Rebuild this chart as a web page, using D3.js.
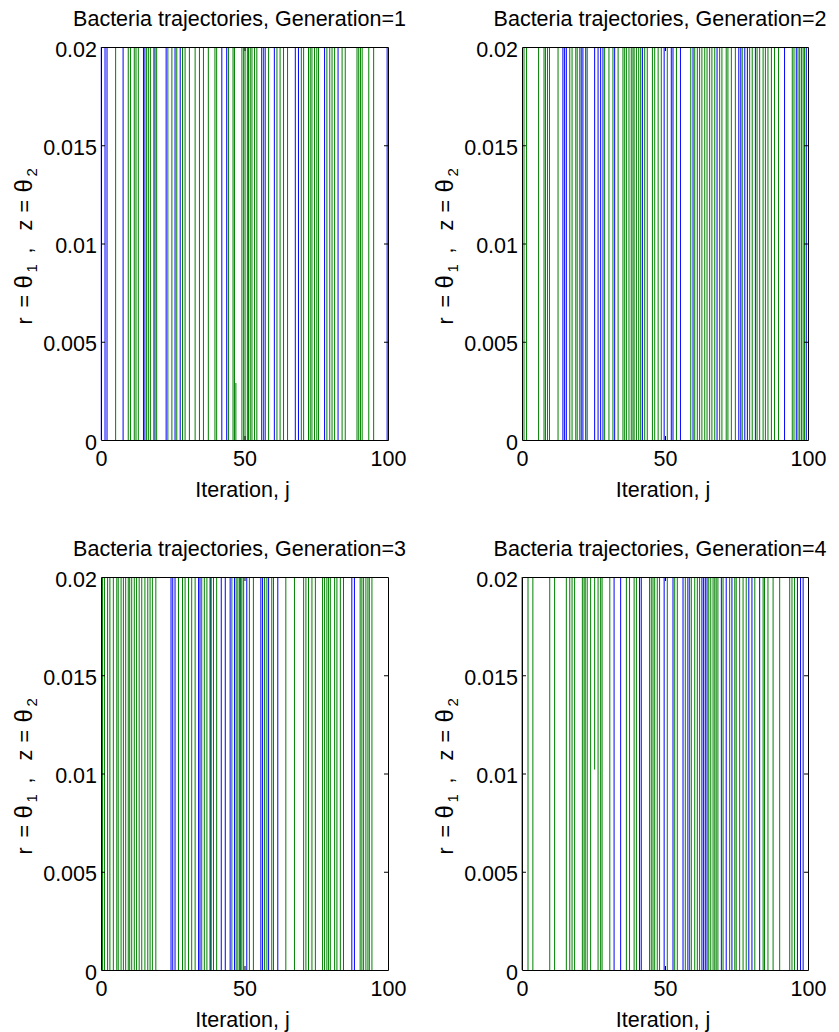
<!DOCTYPE html>
<meta charset="utf-8">
<style>
    body { margin: 0; background: #fff; }
    svg text { font-family: "Liberation Sans", Arial, Helvetica, sans-serif; fill: #000; }
    .axis .domain { stroke: #000; stroke-width: 1px; }
    .axis .tick line { stroke: #000; stroke-width: 1px; }
</style>
<svg width="839" height="1032"></svg>
<script src="https://d3js.org/d3.v7.min.js"></script>
<script>

    // ticks shared by every panel
    var xTicks = [0, 50, 100];
    var yTicks = [0, 0.005, 0.01, 0.015, 0.02];
    var xDomain = [0, 100];
    var yDomain = [0, 0.02];

    var generations = [1, 2, 3, 4];

    // iteration j where each trajectory crosses the visible band (r = blue, z = green)
    var gen1Blue = [0.1, 1.4, 2.1, 7.7, 14.8, 15.3, 18.8, 22.7, 25.8, 27.6, 42.1, 43.8, 56.0, 57.2, 60.4,
        67.7, 68.8, 77.9, 82.6, 99.7];
    var gen1Green = [5.1, 9.5, 10.3, 11.6, 12.2, 13.0, 15.9, 16.5, 17.2, 18.4, 19.4, 23.3, 24.7, 26.4, 28.4,
        29.3, 30.8, 32.8, 34.3, 35.7, 37.4, 39.7, 40.3, 44.4, 46.0, 46.5, 49.1, 49.7, 50.2, 51.0, 51.4, 52.0,
        52.6, 53.5, 54.3, 56.6, 58.4, 61.3, 62.4, 63.6, 65.0, 69.8, 70.6, 72.3, 72.9, 73.5, 74.4, 75.2, 75.8,
        78.7, 79.7, 80.5, 81.4, 84.0, 85.1, 89.2, 89.8, 90.4, 91.0, 93.3, 95.0];
    var gen1GreenPartial = [[47.0, 0, 0.0029]];

    var gen2Blue = [14.3, 14.9, 15.5, 20.7, 21.3, 22.3, 25.4, 26.6, 27.5, 28.3, 32.4, 42.1, 49.7, 52.2, 52.8,
        55.4, 59.8, 68.2, 75.8, 76.5, 77.9, 78.8, 81.6, 91.8, 95.9, 99.4];
    var gen2Green = [0.7, 1.6, 5.8, 7.7, 8.2, 8.9, 9.6, 12.6, 16.7, 17.5, 18.8, 19.3, 20.2, 22.8, 28.9, 30.4,
        31.8, 33.6, 35.3, 35.9, 36.5, 37.4, 38.2, 38.8, 39.2, 40.0, 40.8, 41.5, 42.9, 43.8, 45.6, 46.4, 47.6,
        48.7, 50.8, 54.0, 59.0, 60.4, 61.3, 62.1, 62.9, 63.9, 64.7, 65.6, 66.4, 67.4, 69.1, 69.9, 71.4, 72.0,
        73.2, 74.6, 77.0, 79.6, 80.5, 82.2, 83.1, 84.3, 85.1, 86.0, 87.2, 88.3, 89.7, 94.5, 95.1, 96.5, 97.1,
        97.7, 98.3, 98.8];
    var gen2GreenPartial = [];

    var gen3Blue = [24.4, 25.0, 25.8, 34.0, 34.5, 38.1, 41.9, 43.3, 45.0, 46.5, 48.5, 50.8, 55.7, 56.3, 58.4,
        61.6, 87.4, 88.3];
    var gen3Green = [0.5, 1.2, 2.3, 3.1, 4.3, 5.5, 6.0, 7.0, 7.8, 8.6, 9.5, 10.0, 10.7, 11.6, 12.4, 13.3,
        14.2, 15.3, 16.3, 17.1, 17.9, 19.1, 27.0, 28.4, 29.3, 30.5, 31.6, 32.8, 35.1, 36.0, 36.9, 38.0, 38.4,
        39.2, 40.3, 45.6, 47.1, 47.7, 48.3, 48.7, 49.1, 49.7, 51.7, 53.1, 57.0, 57.8, 59.5, 60.1, 64.4, 67.4,
        70.6, 71.4, 72.3, 73.5, 74.7, 77.2, 77.9, 78.7, 79.3, 79.9, 81.4, 82.2, 83.4, 84.5, 90.3, 90.9, 91.5,
        92.3, 93.0, 93.5, 94.4];
    var gen3GreenPartial = [];

    var gen4Blue = [32.2, 34.5, 41.1, 41.7, 49.7, 52.8, 56.3, 58.0, 62.9, 63.5, 64.1, 64.7, 69.7, 71.4, 73.4,
        79.3, 80.4, 83.1, 96.3, 97.4, 98.3];
    var gen4Green = [0.0, 2.1, 3.8, 9.7, 11.4, 15.5, 16.7, 17.5, 18.4, 21.1, 21.7, 22.1, 22.8, 24.0, 26.6,
        27.5, 28.0, 30.7, 36.5, 37.6, 39.2, 40.0, 44.6, 45.2, 45.8, 46.4, 47.3, 48.1, 50.8, 53.4, 54.3, 57.1,
        58.6, 59.2, 60.4, 61.3, 62.1, 65.3, 66.0, 66.8, 67.4, 67.9, 68.5, 70.3, 72.6, 74.4, 74.9, 76.1, 77.3,
        78.4, 81.4, 84.3, 84.8, 86.0, 87.8, 90.1, 93.6, 94.4, 95.3];
    var gen4GreenPartial = [[25.4, 0.0102, 0.02]];

    var blueSeries = [gen1Blue, gen2Blue, gen3Blue, gen4Blue];
    var greenSeries = [gen1Green, gen2Green, gen3Green, gen4Green];
    var greenPartials = [gen1GreenPartial, gen2GreenPartial, gen3GreenPartial, gen4GreenPartial];


    var svg = d3.select("svg");

    // axes boxes in pixels
    var panels = [
        {left: 101, right: 388, top: 47, bottom: 440},
        {left: 522, right: 808, top: 47, bottom: 440},
        {left: 101, right: 388, top: 577, bottom: 970},
        {left: 522, right: 808, top: 577, bottom: 970}
    ];

    var fontSize = 21.5;
    var tickLen = 4;

    function fmt(d) {
        return d === 0 ? "0" : String(+d.toFixed(3));
    }

    // pieces of the y label: text, offset along the label, size, shift
    var ylabelParts = [
        ["r", -81, fontSize, 0],
        ["=", -64, fontSize, 0],
        ["\u03b8", -45, 24, 0],
        ["1", -29, 15, 5],
        [",", -10, fontSize, 0],
        ["z", 13, fontSize, 0],
        ["=", 31, fontSize, 0],
        ["\u03b8", 51, 24, 0],
        ["2", 67, 15, 5]
    ];

    generations.forEach(function(gen, i) {
        var p = panels[i];
        var x = d3.scaleLinear().domain(xDomain).range([p.left, p.right]);
        var y = d3.scaleLinear().domain(yDomain).range([p.bottom, p.top]);

        var g = svg.append("g");

        // r trajectories
        g.append("g")
            .selectAll("line")
            .data(blueSeries[i])
            .enter().append("line")
            .attr("x1", function(d) { return x(d); })
            .attr("x2", function(d) { return x(d); })
            .attr("y1", y(yDomain[0]))
            .attr("y2", y(yDomain[1]))
            .attr("stroke", "#0000ff")
            .attr("stroke-width", 1);

        // z trajectories
        g.append("g")
            .selectAll("line")
            .data(greenSeries[i])
            .enter().append("line")
            .attr("x1", function(d) { return x(d); })
            .attr("x2", function(d) { return x(d); })
            .attr("y1", y(yDomain[0]))
            .attr("y2", y(yDomain[1]))
            .attr("stroke", "#008000")
            .attr("stroke-width", 1);

        g.append("g")
            .selectAll("line")
            .data(greenPartials[i])
            .enter().append("line")
            .attr("x1", function(d) { return x(d[0]); })
            .attr("x2", function(d) { return x(d[0]); })
            .attr("y1", function(d) { return y(d[1]); })
            .attr("y2", function(d) { return y(d[2]); })
            .attr("stroke", "#008000")
            .attr("stroke-width", 1);

        // box with inward ticks
        g.append("g")
            .attr("class", "axis")
            .attr("transform", "translate(0," + p.bottom + ")")
            .call(d3.axisBottom(x).tickValues(xTicks).tickFormat(fmt)
                .tickSizeInner(-tickLen).tickSizeOuter(0).tickPadding(11));
        g.append("g")
            .attr("class", "axis")
            .attr("transform", "translate(0," + p.top + ")")
            .call(d3.axisTop(x).tickValues(xTicks).tickFormat("")
                .tickSizeInner(-tickLen).tickSizeOuter(0));
        var leftAxis = g.append("g")
            .attr("class", "axis")
            .attr("transform", "translate(" + p.left + ",0)")
            .call(d3.axisLeft(y).tickValues(yTicks).tickFormat(fmt)
                .tickSizeInner(-tickLen).tickSizeOuter(0).tickPadding(4));
        g.append("g")
            .attr("class", "axis")
            .attr("transform", "translate(" + p.right + ",0)")
            .call(d3.axisRight(y).tickValues(yTicks).tickFormat("")
                .tickSizeInner(-tickLen).tickSizeOuter(0));

        g.selectAll(".axis text")
            .attr("font-size", fontSize)
            .style("font-family", "Liberation Sans, Arial, sans-serif");
        leftAxis.selectAll("text").attr("dy", "0.42em");
        // end ticks sit on the box corners
        g.selectAll(".axis .tick line")
            .filter(function(d) { return d === 0 || d === 0.02 || d === 100; })
            .remove();

        var cx = (p.left + p.right) / 2;

        g.append("text")
            .attr("x", cx - 5)
            .attr("y", p.top - 21)
            .attr("text-anchor", "middle")
            .attr("font-size", fontSize)
            .text("Bacteria trajectories, Generation=" + gen);

        g.append("text")
            .attr("x", cx - 2)
            .attr("y", p.bottom + 57)
            .attr("text-anchor", "middle")
            .attr("font-size", fontSize)
            .text("Iteration, j");

        var yl = g.append("g")
            .attr("transform", "translate(" + (p.left - 69) + "," + ((p.top + p.bottom) / 2) + ") rotate(-90)");
        yl.selectAll("text")
            .data(ylabelParts)
            .enter().append("text")
            .attr("x", function(d) { return d[1]; })
            .attr("y", function(d) { return d[3]; })
            .attr("font-size", function(d) { return d[2]; })
            .text(function(d) { return d[0]; });
    });

</script>
